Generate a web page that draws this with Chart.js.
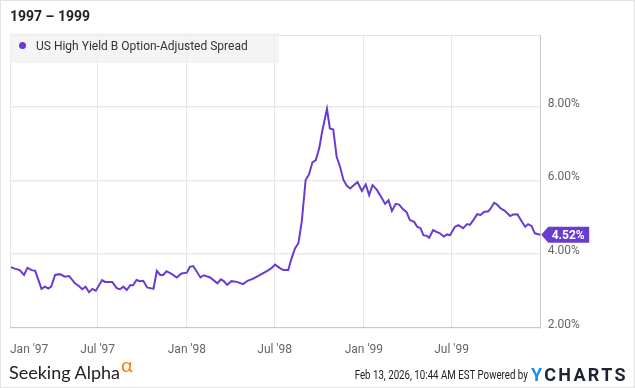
<!DOCTYPE html>
<html>
<head>
<meta charset="utf-8">
<script src="https://cdn.jsdelivr.net/npm/chart.js@4"></script>
<style>
  body { margin: 0; background: #fff; font-family: Roboto, sans-serif; }
  #wrap { position: relative; width: 635px; height: 388px; overflow: hidden; }
  #frame { position: absolute; left: 0; top: 0; width: 635px; height: 388px; box-sizing: border-box;
           border: 1px solid #e3e3e3; pointer-events: none; }
  #title { position: absolute; left: 10px; top: 8px; font-size: 14px; font-weight: 700; color: #222; }
  #legend { position: absolute; left: 10px; top: 33px; width: 269px; height: 30px;
            background: rgba(240, 240, 240, 0.7); }
  #legend .dot { position: absolute; left: 9px; top: 9px; width: 7px; height: 7px; border-radius: 50%; background: #6a3bd1; }
  #legend .txt { position: absolute; left: 26px; top: 6px; font-size: 12px; color: #333; white-space: nowrap; }
  #sa { position: absolute; left: 9px; top: 359px; font-family: Lato, sans-serif; font-size: 18px; color: #222; white-space: nowrap; }
  #sa .alpha { color: #ff7a00; font-size: 20px; position: relative; top: -7px; margin-left: 1px; }
  #stamp { position: absolute; right: 107px; top: 368px; font-size: 12px; color: #222; white-space: nowrap;
           transform: scaleX(0.81); transform-origin: right center; }
  #yc { position: absolute; left: 531px; top: 364px; font-size: 18px; font-weight: 700; letter-spacing: 2.3px; color: #1d2433; }
  #yc span { color: #1a90e8; }
</style>
</head>
<body>
<div id="wrap">
  <canvas id="chart" width="635" height="388"></canvas>
  <div id="title">1997 – 1999</div>
  <div id="legend"><div class="dot"></div><div class="txt">US High Yield B Option-Adjusted Spread</div></div>
  <div id="sa">Seeking Alpha<span class="alpha">α</span></div>
  <div id="stamp">Feb 13, 2026, 10:44 AM EST Powered by</div>
  <div id="yc"><span>Y</span>CHARTS</div>
  <div id="frame"></div>
</div>
<script>
// Data
const dates = [
  '1997-01-03','1997-01-11','1997-01-21','1997-01-30','1997-02-06','1997-02-15','1997-02-22',
  '1997-03-07','1997-03-14','1997-03-21','1997-03-27','1997-04-04','1997-04-14','1997-04-24',
  '1997-05-03','1997-05-15','1997-05-23','1997-05-30','1997-06-06','1997-06-13','1997-06-20',
  '1997-06-27','1997-07-10','1997-07-16','1997-07-31','1997-08-09','1997-08-16','1997-08-23',
  '1997-08-30','1997-09-06','1997-09-12','1997-09-19','1997-09-26','1997-10-03','1997-10-11',
  '1997-10-24','1997-10-31','1997-11-07','1997-11-13','1997-11-20','1997-12-01','1997-12-11',
  '1997-12-21','1998-01-01','1998-01-07','1998-01-14','1998-01-29','1998-02-05','1998-02-18',
  '1998-03-05','1998-03-12','1998-03-18','1998-03-25','1998-04-03','1998-04-14','1998-04-27',
  '1998-05-06','1998-05-18','1998-06-01','1998-06-15','1998-06-25','1998-07-02','1998-07-11',
  '1998-07-19','1998-07-29','1998-08-05','1998-08-12','1998-08-19','1998-08-26','1998-09-03',
  '1998-09-10','1998-09-17','1998-09-24','1998-10-01','1998-10-07','1998-10-17','1998-10-23',
  '1998-10-30','1998-11-06','1998-11-13','1998-11-20','1998-11-27','1998-12-04','1998-12-10',
  '1998-12-19','1998-12-28','1999-01-05','1999-01-12','1999-01-19','1999-01-28','1999-02-05',
  '1999-02-14','1999-02-21','1999-02-28','1999-03-08','1999-03-15','1999-03-23','1999-03-30',
  '1999-04-06','1999-04-15','1999-04-21','1999-04-28','1999-05-04','1999-05-11','1999-05-16',
  '1999-05-24','1999-05-31','1999-06-07','1999-06-15','1999-06-22','1999-06-28','1999-07-08',
  '1999-07-15','1999-07-25','1999-08-02','1999-08-08','1999-08-16','1999-08-23','1999-08-30',
  '1999-09-06','1999-09-15','1999-09-20','1999-09-27','1999-10-03','1999-10-10','1999-10-19',
  '1999-10-30','1999-11-05','1999-11-14','1999-11-21','1999-11-30','1999-12-06','1999-12-13',
  '1999-12-20','1999-12-31'
];
const spread = [
  3.64, 3.60, 3.56, 3.43, 3.62, 3.56, 3.54,
  3.05, 3.11, 3.06, 3.11, 3.43, 3.45, 3.38,
  3.40, 3.20, 3.13, 3.04, 3.11, 2.96, 3.05,
  3.00, 3.29, 3.24, 3.24, 3.07, 3.04, 3.11,
  3.02, 3.15, 3.15, 3.29, 3.26, 3.27, 3.09,
  3.05, 3.54, 3.43, 3.43, 3.53, 3.45, 3.36,
  3.47, 3.49, 3.65, 3.67, 3.36, 3.42, 3.36,
  3.20, 3.31, 3.26, 3.16, 3.26, 3.24, 3.18,
  3.27, 3.33, 3.43, 3.53, 3.62, 3.71, 3.62,
  3.56, 3.56, 3.88, 4.15, 4.29, 4.88, 6.01,
  6.16, 6.49, 6.55, 6.87, 7.32, 7.94, 7.41,
  7.38, 6.64, 6.37, 6.01, 5.85, 5.78, 5.85,
  5.95, 5.71, 5.89, 5.60, 5.87, 5.74, 5.57,
  5.36, 5.46, 5.17, 5.36, 5.34, 5.21, 5.14,
  4.92, 4.87, 4.74, 4.70, 4.51, 4.49, 4.44,
  4.65, 4.60, 4.56, 4.47, 4.53, 4.51, 4.74,
  4.78, 4.70, 4.81, 4.79, 4.94, 5.08, 5.06,
  5.14, 5.16, 5.24, 5.39, 5.34, 5.24, 5.17,
  5.03, 5.07, 5.08, 4.92, 4.74, 4.81, 4.76,
  4.56, 4.52
];
const tickDates = ['1997-01-01','1997-07-01','1998-01-01','1998-07-01','1999-01-01','1999-07-01','2000-01-01'];
const tickLabels = ["Jan '97", "Jul '97", "Jan '98", "Jul '98", "Jan '99", "Jul '99", ''];
const yTicks = [2, 4, 6, 8];

const LINE = '#6a3bd1';
const START = Date.UTC(1997, 0, 1);

// days since 1 Jan 1997
function dayOf(s) {
    const p = s.split('-').map(Number);
    return (Date.UTC(p[0], p[1] - 1, p[2]) - START) / 86400000;
}

const points = dates.map((d, i) => ({ x: dayOf(d), y: spread[i] }));
const tickDays = tickDates.map(dayOf);

// top border of the plot + last value tag
const decorations = {
    id: 'decorations',
    beforeDatasetsDraw(chart) {
        const { ctx, chartArea } = chart;
        ctx.save();
        ctx.strokeStyle = '#e4e4e4';
        ctx.lineWidth = 1;
        ctx.beginPath();
        ctx.moveTo(chartArea.left, Math.round(chartArea.top) + 0.5);
        ctx.lineTo(chartArea.right, Math.round(chartArea.top) + 0.5);
        ctx.stroke();
        ctx.restore();
    },
    afterDatasetsDraw(chart) {
        const { ctx } = chart;
        const meta = chart.getDatasetMeta(0);
        const last = meta.data[meta.data.length - 1];
        const x = last.x + 1, y = last.y;
        ctx.save();
        ctx.fillStyle = LINE;
        ctx.beginPath();
        ctx.moveTo(x, y);
        ctx.lineTo(x + 7, y - 8);
        ctx.lineTo(x + 48, y - 8);
        ctx.lineTo(x + 48, y + 8);
        ctx.lineTo(x + 7, y + 8);
        ctx.closePath();
        ctx.fill();
        ctx.fillStyle = '#fff';
        ctx.font = 'bold 12px Roboto';
        ctx.textAlign = 'center';
        ctx.textBaseline = 'middle';
        ctx.fillText(spread[spread.length - 1].toFixed(2) + '%', x + 27, y + 1);
        ctx.restore();
    }
};

function initializeChart() {
    Chart.defaults.font.family = 'Roboto';
    Chart.defaults.font.size = 12;
    Chart.defaults.color = '#666';

    const ctx = document.getElementById('chart').getContext('2d');
    new Chart(ctx, {
        type: 'line',
        data: {
            datasets: [{
                label: 'US High Yield B Option-Adjusted Spread',
                data: points,
                borderColor: LINE,
                borderWidth: 2,
                pointRadius: 0,
                tension: 0
            }]
        },
        options: {
            responsive: false,
            animation: false,
            layout: { padding: { left: 10, top: 35, right: 0, bottom: 0 } },
            plugins: {
                legend: { display: false },
                tooltip: { enabled: false }
            },
            scales: {
                x: {
                    type: 'linear',
                    min: 0,
                    max: tickDays[tickDays.length - 1],
                    afterBuildTicks: (scale) => { scale.ticks = tickDays.map(v => ({ value: v })); },
                    afterFit: (scale) => { scale.height = 60.5; },
                    // invisible tick marks stand in for label padding (keeps the left edge at 10px)
                    grid: { color: '#e6e6e6', drawTicks: true, tickLength: 15, tickColor: 'rgba(0,0,0,0)' },
                    border: { color: '#c8c8c8' },
                    ticks: {
                        padding: 0,
                        align: 'inner',
                        maxRotation: 0,
                        autoSkip: false,
                        callback: (v, i) => tickLabels[i]
                    }
                },
                y: {
                    position: 'right',
                    min: 2,
                    max: 9.95,
                    afterBuildTicks: (scale) => { scale.ticks = yTicks.map(v => ({ value: v })); },
                    afterFit: (scale) => { scale.width = 94.3; },
                    grid: { color: '#e9e9e9', lineWidth: 1.5, drawTicks: false },
                    border: { color: '#c8c8c8' },
                    ticks: {
                        padding: 7,
                        labelOffset: -3,
                        callback: (v) => v.toFixed(2) + '%'
                    }
                }
            }
        },
        plugins: [decorations]
    });
}

document.addEventListener('DOMContentLoaded', () => {
    initializeChart();
});
</script>
</body>
</html>
